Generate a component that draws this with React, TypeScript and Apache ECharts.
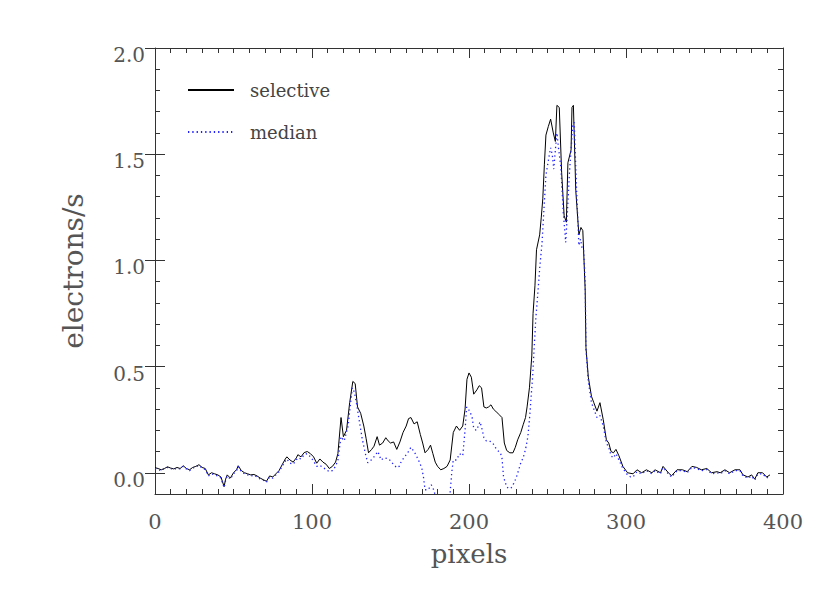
import React, { useEffect, useRef } from "react";
import * as echarts from "echarts";

const seriesNames = ["selective", "median"];
const xTickLabels = [0, 100, 200, 300, 400];
const yTickLabels = [0, 0.5, 1, 1.5, 2];

const selective: [number, number][] = [
  [0, 0.024], [2, 0.02], [4, 0.014], [6, 0.02], [8, 0.028], [10, 0.022], [12, 0.018], [14, 0.025],
  [16, 0.02], [18, 0.033], [20, 0.02], [22, 0.014], [24, 0.025], [26, 0.03], [28, 0.038], [30, 0.025],
  [32, 0.02], [34, -0.01], [36, 0.0], [38, -0.005], [40, -0.01], [42, -0.02], [44, -0.065], [45, -0.03],
  [46, -0.01], [48, -0.025], [50, 0.0], [52, 0.015], [53, 0.033], [55, 0.01], [57, 0.0], [59, -0.005],
  [61, -0.01], [63, -0.008], [65, -0.015], [67, -0.025], [69, -0.033], [71, -0.04], [73, -0.015], [75, -0.02],
  [77, -0.005], [79, 0.01], [81, 0.038], [83, 0.065], [84, 0.075], [86, 0.06], [88, 0.05], [90, 0.07],
  [91, 0.085], [93, 0.075], [95, 0.095], [97, 0.1], [99, 0.09], [101, 0.075], [103, 0.045], [105, 0.065],
  [107, 0.05], [109, 0.04], [111, 0.02], [113, 0.03], [115, 0.05], [116.5, 0.09], [118.5, 0.26], [120, 0.17],
  [122, 0.2], [124, 0.33], [126, 0.43], [127.5, 0.42], [129, 0.31], [131, 0.28], [133, 0.22], [134.5, 0.16],
  [136, 0.094], [138, 0.11], [139.5, 0.125], [141.5, 0.17], [143, 0.13], [145, 0.14], [147, 0.165], [148.5, 0.15],
  [150, 0.14], [152, 0.145], [154, 0.11], [156, 0.145], [158, 0.19], [160, 0.22], [161.5, 0.255], [163, 0.26],
  [165, 0.23], [167, 0.24], [169, 0.18], [170.5, 0.14], [172, 0.094], [174, 0.11], [175.5, 0.13], [177, 0.09],
  [178.5, 0.05], [180, 0.03], [182, 0.014], [184, 0.02], [186, 0.03], [188, 0.06], [190, 0.19], [192, 0.22],
  [194, 0.2], [196, 0.22], [197.5, 0.3], [198.7, 0.44], [200, 0.47], [201.5, 0.45], [203, 0.37], [205, 0.39],
  [206.5, 0.41], [208, 0.4], [209.5, 0.31], [211, 0.305], [212.5, 0.31], [214, 0.32], [215.5, 0.3], [217, 0.29],
  [219, 0.275], [221, 0.26], [222.5, 0.14], [224, 0.105], [226, 0.094], [228, 0.094], [229.5, 0.12], [231, 0.155],
  [233, 0.19], [234.5, 0.226], [236, 0.26], [237, 0.31], [238.5, 0.4], [240, 0.55], [240.8, 0.75], [242, 0.88],
  [243, 1.05], [245, 1.12], [246, 1.2], [247, 1.29], [248, 1.45], [249, 1.59], [250.5, 1.63], [252, 1.665],
  [253.7, 1.6], [255, 1.56], [256, 1.73], [257.5, 1.72], [259, 1.415], [260.6, 1.21], [262, 1.18], [263, 1.46],
  [265, 1.52], [265.6, 1.72], [266.5, 1.73], [268, 1.33], [270, 1.12], [271.3, 1.155], [272.5, 1.14], [274, 0.86],
  [274.5, 0.59], [276, 0.45], [278, 0.36], [279.5, 0.33], [281.5, 0.29], [283.4, 0.33], [285.5, 0.25], [287.5, 0.155],
  [289, 0.14], [290.5, 0.1], [292, 0.094], [293.6, 0.11], [295.5, 0.08], [298, 0.03], [301, 0.0], [304.5, -0.005],
  [307, 0.014], [310, 0.0], [313, 0.014], [316.5, 0.0], [318.5, 0.014], [322, 0.0], [323.6, 0.03], [327, 0.0],
  [329, -0.014], [332.5, 0.014], [336, 0.014], [339, 0.005], [342, 0.03], [345, 0.025], [348, 0.014], [351.5, 0.02],
  [354.5, 0.0], [358, 0.005], [360, 0.0], [363, 0.014], [366, 0.0], [369.4, 0.014], [372.6, 0.014], [374.5, -0.01],
  [377.7, -0.02], [380, -0.01], [382, -0.03], [384, 0.0], [387, 0.0], [389.6, -0.02], [391.7, -0.01],
];

const median: [number, number][] = [
  [0, 0.02], [2, 0.015], [4, 0.01], [6, 0.02], [8, 0.025], [10, 0.02], [12, 0.015], [14, 0.022],
  [16, 0.018], [18, 0.03], [20, 0.018], [22, 0.01], [24, 0.022], [26, 0.028], [28, 0.035], [30, 0.022],
  [32, 0.015], [34, -0.015], [36, -0.005], [38, -0.01], [40, -0.015], [42, -0.025], [44, -0.07], [45, -0.035],
  [46, -0.015], [48, -0.03], [50, -0.005], [52, 0.01], [53, 0.03], [55, 0.005], [57, -0.005], [59, -0.01],
  [61, -0.015], [63, -0.012], [65, -0.02], [67, -0.03], [69, -0.035], [71, -0.045], [73, -0.02], [75, -0.025],
  [77, -0.01], [79, 0.005], [81, 0.03], [83, 0.055], [84, 0.065], [86, 0.045], [88, 0.04], [90, 0.06],
  [91, 0.07], [93, 0.065], [95, 0.085], [97, 0.09], [99, 0.075], [101, 0.055], [103, 0.03], [105, 0.035],
  [107, 0.025], [109, 0.015], [111, 0.005], [113, 0.01], [115, 0.03], [116.5, 0.06], [118.5, 0.17], [120.5, 0.15],
  [123, 0.22], [125.6, 0.4], [127, 0.38], [128.5, 0.32], [130, 0.25], [132, 0.16], [134, 0.09], [135.5, 0.047],
  [137, 0.055], [139, 0.07], [141, 0.09], [142, 0.1], [144, 0.06], [146, 0.07], [149, 0.065], [151, 0.047],
  [152.5, 0.035], [154, 0.024], [155.5, 0.03], [157, 0.055], [159, 0.075], [161, 0.094], [163, 0.12], [165, 0.1],
  [166.5, 0.08], [168.6, 0.047], [170, 0.02], [171, -0.02], [172, -0.08], [174, -0.08], [176, -0.057], [177.5, -0.08],
  [179, -0.12], [182, -0.15], [185, -0.14], [187, -0.11], [188, -0.09], [189, 0.0], [190, 0.06], [192, 0.06],
  [194, 0.09], [196, 0.08], [197.5, 0.2], [198.5, 0.31], [200.5, 0.29], [202, 0.26], [203, 0.21], [204.5, 0.2],
  [206, 0.22], [207, 0.24], [208.5, 0.2], [209.5, 0.165], [211, 0.15], [213, 0.15], [215, 0.14], [216, 0.13],
  [217.5, 0.11], [219, 0.1], [220, 0.094], [221, 0.07], [222, -0.02], [224, -0.066], [225.5, -0.075], [227, -0.07],
  [228.5, -0.05], [230, -0.025], [231.5, 0.01], [233, 0.047], [234.5, 0.07], [236, 0.11], [237.5, 0.17], [238.5, 0.25],
  [240.5, 0.45], [242.5, 0.72], [244, 0.86], [245, 0.96], [246.5, 1.08], [247.5, 1.21], [249, 1.4], [251, 1.49],
  [252, 1.53], [253, 1.5], [254, 1.43], [255, 1.52], [256, 1.6], [257, 1.53], [258.5, 1.44], [260, 1.23],
  [261.6, 1.085], [262.5, 1.2], [264, 1.415], [265, 1.52], [266, 1.63], [267, 1.65], [268.5, 1.335], [270, 1.07],
  [271, 1.1], [272, 1.06], [273, 1.05], [274, 0.9], [274.5, 0.58], [276, 0.43], [278, 0.33], [279.5, 0.3],
  [281.5, 0.26], [283.4, 0.27], [285.5, 0.22], [287.5, 0.14], [289, 0.12], [290.5, 0.08], [292, 0.07], [293.6, 0.09],
  [295.5, 0.06], [298, 0.02], [301, -0.01], [303, -0.02], [304.5, -0.02], [307, 0.005], [310, -0.005], [313, 0.01],
  [316.5, -0.005], [318.5, 0.01], [322, -0.005], [323.6, 0.025], [327, -0.005], [329, -0.02], [332.5, 0.01], [336, 0.01],
  [339, 0.0], [342, 0.025], [345, 0.02], [348, 0.01], [351.5, 0.015], [354.5, -0.005], [358, 0.0], [360, -0.005],
  [363, 0.01], [366, -0.005], [369.4, 0.01], [372.6, 0.01], [374.5, -0.015], [377.7, -0.025], [380, -0.015], [382, -0.035],
  [384, -0.005], [387, -0.005], [389.6, -0.025], [391.7, -0.015],
];

const FONT = "DejaVu Serif";
const AXIS_COLOR = "#333";
const TEXT_COLOR = "#555";

export default function App() {
  const ref = useRef<HTMLDivElement>(null);
  useEffect(() => {
    if (!ref.current) return;
    const chart = echarts.init(ref.current, undefined, { renderer: "svg" });
    const isMajorY = (v: number) => yTickLabels.some((t) => Math.abs(t - v) < 1e-6);
    const baseX = {
      type: "value" as const,
      min: 0,
      max: 400,
      interval: 100,
      axisLine: { show: true, onZero: false, lineStyle: { color: AXIS_COLOR, width: 1 } },
      axisTick: { show: true, inside: true, length: 10, lineStyle: { color: AXIS_COLOR } },
      minorTick: { show: true, splitNumber: 10, length: 5, lineStyle: { color: AXIS_COLOR } },
      splitLine: { show: false },
      minorSplitLine: { show: false },
    };
    const baseY = {
      type: "value" as const,
      min: -0.1,
      max: 2.0,
      interval: 0.1,
      splitLine: { show: false },
    };
    chart.setOption({
      animation: false,
      backgroundColor: "#fff",
      grid: { left: 155, right: 47, top: 48, bottom: 99, containLabel: false },
      legend: {
        orient: "vertical",
        left: 187,
        top: 81,
        padding: 0,
        itemWidth: 46,
        itemHeight: 14,
        itemGap: 24,
        data: seriesNames,
        itemStyle: { opacity: 0 },
        textStyle: { fontFamily: FONT, fontSize: 18, color: "#444", padding: [0, 0, 5, 11] },
      },
      xAxis: [
        {
          ...baseX,
          position: "bottom",
          axisLabel: {
            show: true,
            margin: 17,
            fontFamily: FONT,
            fontSize: 21,
            color: TEXT_COLOR,
            formatter: (v: number) => (xTickLabels.includes(v) ? String(v) : ""),
          },
          name: "pixels",
          nameLocation: "middle",
          nameGap: 47,
          nameTextStyle: { fontFamily: FONT, fontSize: 26, color: TEXT_COLOR },
        },
        {
          ...baseX,
          position: "top",
          axisLabel: { show: false },
        },
      ],
      yAxis: [
        {
          ...baseY,
          position: "left",
          axisLine: { show: true, onZero: false, lineStyle: { color: AXIS_COLOR, width: 1 } },
          axisTick: { show: true, inside: true, length: 5, lineStyle: { color: AXIS_COLOR } },
          axisLabel: {
            show: true,
            margin: 10,
            fontFamily: FONT,
            fontSize: 20,
            color: TEXT_COLOR,
            verticalAlign: "top",
            lineHeight: 14,
            formatter: (v: number) => (isMajorY(v) ? v.toFixed(1) : ""),
          },
          name: "electrons/s",
          nameLocation: "middle",
          nameGap: 68,
          nameTextStyle: { fontFamily: FONT, fontSize: 28, color: TEXT_COLOR },
        },
        {
          ...baseY,
          position: "left",
          axisLine: { show: false },
          axisTick: { show: true, inside: true, length: 10, customValues: yTickLabels, lineStyle: { color: AXIS_COLOR } },
          axisLabel: { show: false },
        },
        {
          ...baseY,
          position: "right",
          axisLine: { show: true, onZero: false, lineStyle: { color: AXIS_COLOR, width: 1 } },
          axisTick: { show: true, inside: true, length: 5, lineStyle: { color: AXIS_COLOR } },
          axisLabel: { show: false },
        },
        {
          ...baseY,
          position: "right",
          axisLine: { show: false },
          axisTick: { show: true, inside: true, length: 10, customValues: yTickLabels, lineStyle: { color: AXIS_COLOR } },
          axisLabel: { show: false },
        },
      ],
      series: [
        {
          name: seriesNames[0],
          type: "line",
          xAxisIndex: 0,
          yAxisIndex: 0,
          data: selective,
          symbol: "none",
          clip: true,
          color: "#000",
          lineStyle: { color: "#000", width: 1 },
        },
        {
          name: seriesNames[1],
          type: "line",
          xAxisIndex: 0,
          yAxisIndex: 0,
          data: median,
          symbol: "none",
          clip: true,
          color: "#2020ff",
          lineStyle: { color: "#2020ff", width: 1.3, type: [1.3, 3] },
        },
      ],
    });
    return () => chart.dispose();
  }, []);
  return (
    <div
      ref={ref}
      style={{ position: "absolute", left: 0, top: 0, width: 830, height: 593 }}
    />
  );
}
